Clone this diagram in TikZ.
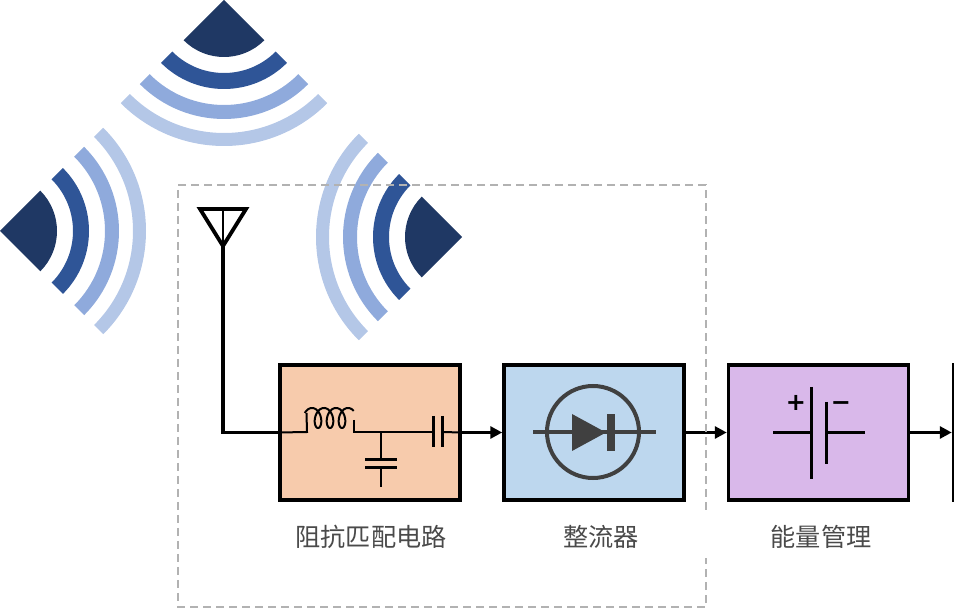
\documentclass[tikz,border=0pt]{standalone}
\usepackage{fontspec}
\setmainfont{Noto Sans CJK SC}
\newfontfamily\signfont{DejaVu Sans}
\usetikzlibrary{arrows.meta}
\definecolor{waveA}{HTML}{1F3864}
\definecolor{waveB}{HTML}{2F5597}
\definecolor{waveC}{HTML}{8FAADC}
\definecolor{waveD}{HTML}{B4C7E7}
\definecolor{matchfill}{HTML}{F7CBAC}
\definecolor{rectfill}{HTML}{BDD7EE}
\definecolor{mgmtfill}{HTML}{D9B8EA}
\definecolor{labelgray}{HTML}{4A4A4A}
\definecolor{diodegray}{HTML}{404040}
\tikzset{
  block/.style={draw=black, line width=3.5pt, minimum width=180pt, minimum height=135pt, inner sep=0pt},
  caption/.style={font=\fontsize{25.2}{28}\selectfont, text=labelgray, inner sep=0pt},
  feed/.style={line width=3.8pt},
  signal/.style={line width=3pt, -{Triangle[length=12pt,width=12pt]}},
  wire/.style={line width=2pt},
  plate/.style={line width=3pt},
  sign/.style={font=\signfont\bfseries\fontsize{24}{24}\selectfont, inner sep=0pt, text height=15pt, text depth=0pt}
}
\begin{document}
\begin{tikzpicture}[x=1pt,y=1pt]
\def\wirey{-432.5}
\def\wave#1#2#3{
  \begin{scope}[shift={(#1,#2)},rotate=#3]
    \fill[waveA] (0,0) -- (-45:57) arc (-45:45:57) -- cycle;
    \fill[waveB] (-45:73) arc (-45:45:73) -- (45:89) arc (45:-45:89) -- cycle;
    \fill[waveC] (-45:105) arc (-45:45:105) -- (45:119) arc (45:-45:119) -- cycle;
    \fill[waveD] (-45:133) arc (-45:45:133) -- (45:146) arc (45:-45:146) -- cycle;
  \end{scope}
}
\path[use as bounding box, clip] (0,0) rectangle (954,-609);

% waves
\wave{224}{0}{-90}
\wave{0}{-231}{0}
\wave{462}{-237}{180}

% blocks
\node[block, fill=matchfill] (match) at (370,\wirey) {};
\node[block, fill=rectfill] (rect) at (594,\wirey) {};
\node[block, fill=mgmtfill] (mgmt) at (818.5,\wirey) {};
\node[block, fill=black] (load) at (1043.5,\wirey) {};
\node[caption] (matchlabel) at (371,-537) {阻抗匹配电路};
\node[caption] (rectlabel) at (601,-537) {整流器};
\node[caption] (mgmtlabel) at (821,-537) {能量管理};

% antenna
\coordinate (anttop) at (223,-209);
\draw[feed, line join=miter] (200,-209) -- (246,-209) -- (223,-246) -- cycle;
\draw[line width=2.5pt] (anttop) -- (223,-246);
\draw[feed] (223,-246) |- (match.west);

% matching circuit
\coordinate (coilin) at (307,-432);
\coordinate (tee) at (381,-432);
\draw[wire] (match.west) -- (coilin) -- (306.5,-413);
\draw[wire] plot[domain=-60:1125,samples=150] ({312+12*\x/360+6*sin(\x)},{-418+10*cos(\x)});
\draw[wire] (353.5,-420) -- (353.5,-432) -- (433,-432);
\draw[wire] (442,-432) -- (match.east);
\draw[plate] (433,-416) -- (433,-447);
\draw[plate] (442,-416) -- (442,-447);
\draw[wire] (tee) -- (381,-460);
\draw[plate] (365,-460) -- (397,-460);
\draw[plate] (365,-468) -- (397,-468);
\draw[wire] (381,-468) -- (381,-487);

% diode
\draw[diodegray, line width=4pt] (593,-432) circle (46);
\draw[diodegray, line width=4pt] (533,-432.5) -- (656,-432.5);
\fill[diodegray] (572,-414) -- (606,-432.5) -- (572,-451) -- cycle;
\fill[diodegray] (607,-414) rectangle (615,-451);

% battery
\draw[plate] (811,-387) -- (811,-479);
\draw[plate] (826,-402) -- (826,-464);
\draw[plate] (773,\wirey) -- (811,\wirey);
\draw[plate] (826,\wirey) -- (865,\wirey);
\node[sign] (plus) at (796,-403) {+};
\node[sign] (minus) at (841,-403) {−};

% edges
\draw[signal] (match.east) -- (rect.west);
\draw[signal] (rect.east) -- (mgmt.west);
\draw[signal] (mgmt.east) -- (load.west);

% dashed frame
\draw[draw=black!30, line width=1.5pt, dash pattern=on 8pt off 5pt] (706,-510) -- (706,-185) -- (178,-185) -- (178,-607) -- (706,-607) -- (706,-558);
\end{tikzpicture}
\end{document}
